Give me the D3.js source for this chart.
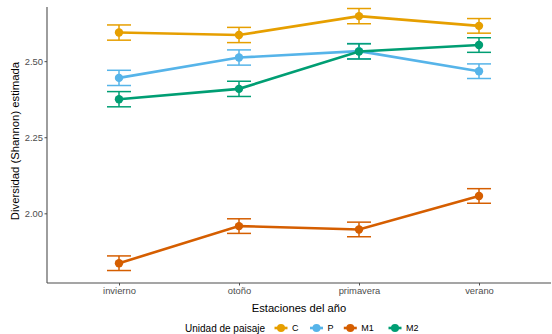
<!DOCTYPE html>
<html>
<head>
<meta charset="utf-8">
<script src="https://cdn.jsdelivr.net/npm/d3@7"></script>
<style>
  html, body { margin: 0; padding: 0; background: #fff; }
  svg { display: block; font-family: "Liberation Sans", Arial, sans-serif; }
</style>
</head>
<body>
<svg id="chart" width="552" height="334"></svg>
<script>
// Seasons on the x axis
const seasons = ["invierno", "otoño", "primavera", "verano"];

// Landscape units and their colours
const units = ["C", "P", "M1", "M2"];
const unitColors = ["#E69F00", "#56B4E9", "#D55E00", "#009E73"];

// Estimated Shannon diversity per unit, one value per season
const valuesC  = [2.594, 2.586, 2.648, 2.616];
const valuesP  = [2.445, 2.512, 2.533, 2.467];
const valuesM1 = [1.836, 1.958, 1.947, 2.057];
const valuesM2 = [2.375, 2.409, 2.532, 2.553];

// Standard errors per unit and season
const errC  = [0.025, 0.025, 0.025, 0.024];
const errP  = [0.025, 0.025, 0.025, 0.024];
const errM1 = [0.024, 0.024, 0.024, 0.024];
const errM2 = [0.025, 0.025, 0.025, 0.024];

// Y axis ticks
const yTicks = [2.00, 2.25, 2.50];

const series = [
  { unit: "C",  values: valuesC,  errs: errC  },
  { unit: "P",  values: valuesP,  errs: errP  },
  { unit: "M1", values: valuesM1, errs: errM1 },
  { unit: "M2", values: valuesM2, errs: errM2 }
];

const svg = d3.select("#chart");
const panel = { left: 47, right: 551, top: 7, bottom: 283 };

const x = d3.scalePoint().domain(seasons).range([panel.left, panel.right]).padding(0.6);
const y = d3.scaleLinear().domain([1.771, 2.678]).range([panel.bottom, panel.top]);
const color = d3.scaleOrdinal().domain(units).range(unitColors);

// Axes
const yAxis = svg.append("g")
  .attr("transform", `translate(${panel.left},0)`)
  .call(d3.axisLeft(y).tickValues(yTicks).tickFormat(d3.format(".2f")).tickSize(2.5).tickPadding(1.5));
const xAxis = svg.append("g")
  .attr("transform", `translate(0,${panel.bottom})`)
  .call(d3.axisBottom(x).tickSize(2.5).tickPadding(1.5));

[yAxis, xAxis].forEach(g => {
  g.select(".domain").attr("stroke", "#4D4D4D").attr("stroke-width", 1.1);
  g.selectAll(".tick line").attr("stroke", "#4D4D4D");
  g.selectAll(".tick text").attr("fill", "#4D4D4D").attr("font-size", 9.4)
    .attr("font-family", "Liberation Sans, Arial, sans-serif");
});
yAxis.select(".domain").attr("d", `M0,${panel.top}V${panel.bottom}`);
xAxis.select(".domain").attr("d", `M${panel.left},0H${panel.right}`);

// Axis titles
svg.append("text")
  .attr("transform", "translate(19,141) rotate(-90)")
  .attr("text-anchor", "middle").attr("font-size", 11.3).attr("fill", "#000")
  .text("Diversidad (Shannon) estimada");
svg.append("text")
  .attr("x", 299).attr("y", 312)
  .attr("text-anchor", "middle").attr("font-size", 11.2).attr("fill", "#000")
  .text("Estaciones del año");

// Error bars
const capHalf = 12;
series.forEach(s => {
  const g = svg.append("g").attr("stroke", color(s.unit)).attr("stroke-width", 1.5).attr("fill", "none");
  s.values.forEach((v, i) => {
    const cx = x(seasons[i]);
    const lo = y(v - s.errs[i]), hi = y(v + s.errs[i]);
    g.append("line").attr("x1", cx).attr("x2", cx).attr("y1", lo).attr("y2", hi);
    g.append("line").attr("x1", cx - capHalf).attr("x2", cx + capHalf).attr("y1", lo).attr("y2", lo);
    g.append("line").attr("x1", cx - capHalf).attr("x2", cx + capHalf).attr("y1", hi).attr("y2", hi);
  });
});

// Lines and points
const line = d3.line().x((d, i) => x(seasons[i])).y(d => y(d));
series.forEach(s => {
  svg.append("path").datum(s.values)
    .attr("d", line).attr("fill", "none")
    .attr("stroke", color(s.unit)).attr("stroke-width", 2.6);
  svg.selectAll(null).data(s.values).enter().append("circle")
    .attr("cx", (d, i) => x(seasons[i])).attr("cy", d => y(d))
    .attr("r", 4.2).attr("fill", color(s.unit));
});

// Legend
const legend = svg.append("g").attr("transform", "translate(0,328)");
legend.append("text").attr("x", 185).attr("y", 3.7).attr("font-size", 10).attr("fill", "#000")
  .text("Unidad de paisaje");
const keyX = [281, 316.5, 350.3, 395];
units.forEach((u, i) => {
  const g = legend.append("g").attr("transform", `translate(${keyX[i]},0)`);
  g.append("line").attr("x1", -6.5).attr("x2", 6.5).attr("y1", 0).attr("y2", 0)
    .attr("stroke", color(u)).attr("stroke-width", 2.6);
  g.append("circle").attr("r", 4).attr("fill", color(u));
  g.append("text").attr("x", 11).attr("y", 3.3).attr("font-size", 9).attr("fill", "#000").text(u);
});
</script>
</body>
</html>
